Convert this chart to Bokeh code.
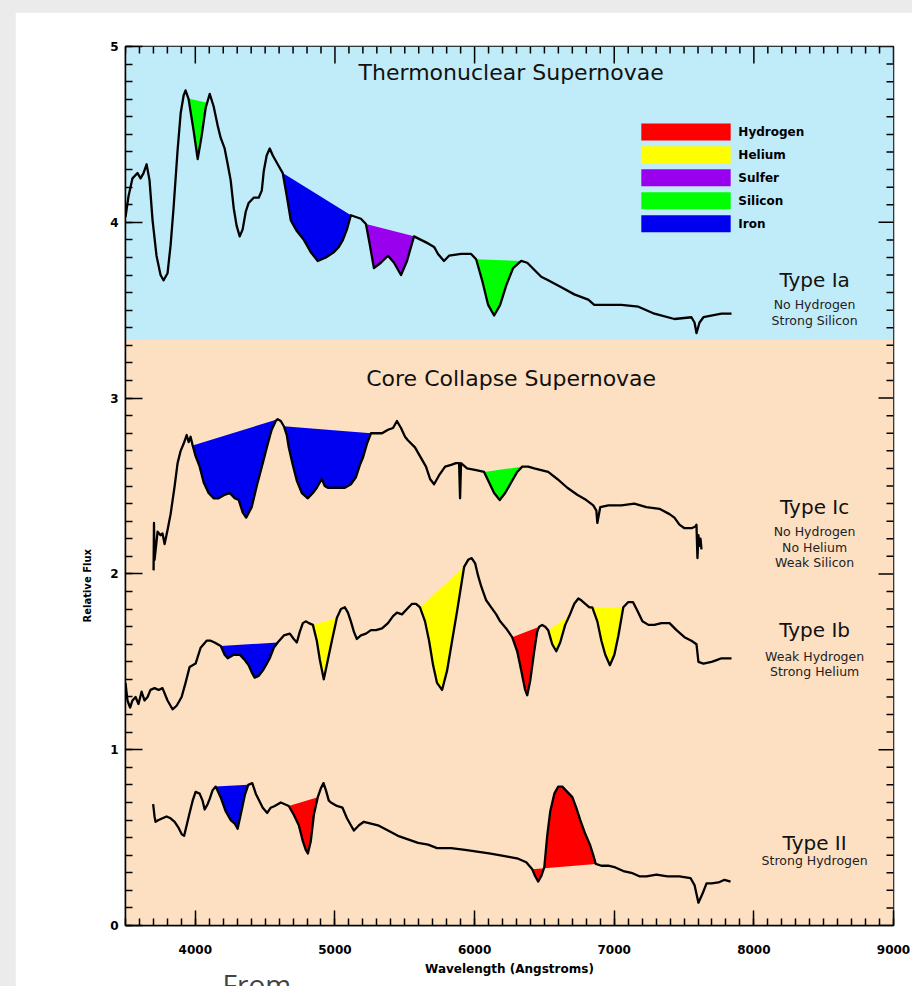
import numpy as np
from bokeh.plotting import figure
from bokeh.models import Range1d, FixedTicker, Title
from bokeh.layouts import column
from bokeh.embed import file_html
from bokeh.resources import INLINE
from bokeh.core.properties import value

# ---------------- data ----------------
ia_wave = [3500, 3522, 3550, 3586, 3608, 3629, 3651, 3672, 3694, 3722, 3751, 3773, 3801, 3823, 3844, 3873,
           3895, 3916, 3930, 3952, 3988, 4017, 4045, 4074, 4103, 4131, 4160, 4182, 4210, 4232, 4253, 4275,
           4296, 4318, 4339, 4361, 4382, 4418, 4454, 4476, 4490, 4511, 4533, 4555, 4590, 4626, 4655, 4684,
           4727, 4777, 4827, 4877, 4935, 4992, 5028, 5057, 5086, 5114, 5150, 5186, 5222, 5250, 5279, 5329,
           5380, 5423, 5473, 5516, 5566, 5616, 5667, 5710, 5738, 5781, 5817, 5903, 5975, 6011, 6054, 6097,
           6140, 6183, 6226, 6276, 6334, 6377, 6427, 6477, 6527, 6621, 6714, 6814, 6857, 6908, 7051, 7173,
           7288, 7431, 7553, 7575, 7589, 7611, 7639, 7768, 7840]
ia_flux = [4.03, 4.15, 4.25, 4.28, 4.25, 4.28, 4.33, 4.24, 4.01, 3.81, 3.70, 3.67, 3.71, 3.87, 4.08, 4.41,
           4.62, 4.72, 4.75, 4.70, 4.52, 4.36, 4.49, 4.65, 4.73, 4.66, 4.55, 4.48, 4.42, 4.33, 4.24, 4.08,
           3.98, 3.92, 3.96, 4.06, 4.11, 4.14, 4.14, 4.18, 4.29, 4.38, 4.42, 4.38, 4.33, 4.28, 4.15, 4.01,
           3.95, 3.90, 3.83, 3.78, 3.80, 3.83, 3.86, 3.90, 3.96, 4.04, 4.03, 4.02, 3.99, 3.87, 3.74, 3.77,
           3.81, 3.77, 3.70, 3.78, 3.92, 3.90, 3.88, 3.86, 3.82, 3.78, 3.81, 3.82, 3.82, 3.79, 3.67, 3.53,
           3.47, 3.53, 3.64, 3.74, 3.78, 3.77, 3.73, 3.69, 3.67, 3.63, 3.59, 3.56, 3.53, 3.53, 3.53, 3.52,
           3.48, 3.45, 3.46, 3.43, 3.37, 3.43, 3.46, 3.48, 3.48]

ic_wave = [3701, 3704, 3708, 3730, 3751, 3765, 3780, 3801, 3823, 3852, 3873, 3895, 3916, 3938, 3952, 3966,
           3981, 4002, 4031, 4060, 4095, 4131, 4167, 4210, 4246, 4282, 4311, 4339, 4364, 4404, 4440, 4483,
           4519, 4547, 4576, 4590, 4612, 4634, 4655, 4669, 4698, 4727, 4763, 4806, 4842, 4870, 4906, 4927,
           4949, 5007, 5071, 5114, 5150, 5179, 5200, 5229, 5258, 5301, 5337, 5380, 5416, 5444, 5473, 5502,
           5522, 5573, 5616, 5652, 5681, 5710, 5745, 5789, 5832, 5867, 5889, 5896, 5903, 5946, 6011, 6068,
           6104, 6140, 6180, 6219, 6262, 6305, 6341, 6384, 6427, 6477, 6527, 6592, 6664, 6735, 6800, 6850,
           6872, 6879, 6900, 6958, 7051, 7144, 7230, 7324, 7396, 7431, 7467, 7503, 7553, 7582, 7589, 7596,
           7603, 7610, 7618, 7625]
ic_flux = [2.02, 2.29, 2.08, 2.24, 2.22, 2.23, 2.17, 2.25, 2.34, 2.50, 2.63, 2.70, 2.74, 2.79, 2.75, 2.78,
           2.73, 2.67, 2.61, 2.52, 2.46, 2.43, 2.43, 2.45, 2.46, 2.43, 2.42, 2.35, 2.32, 2.38, 2.50, 2.63,
           2.74, 2.82, 2.87, 2.88, 2.87, 2.84, 2.79, 2.72, 2.62, 2.53, 2.46, 2.43, 2.46, 2.49, 2.54, 2.50,
           2.49, 2.49, 2.49, 2.51, 2.55, 2.62, 2.66, 2.74, 2.80, 2.80, 2.80, 2.82, 2.83, 2.87, 2.83, 2.78,
           2.76, 2.72, 2.66, 2.61, 2.54, 2.51, 2.56, 2.61, 2.62, 2.63, 2.63, 2.43, 2.63, 2.60, 2.59, 2.58,
           2.52, 2.46, 2.42, 2.46, 2.52, 2.58, 2.61, 2.61, 2.60, 2.59, 2.58, 2.54, 2.49, 2.45, 2.42, 2.39,
           2.36, 2.29, 2.38, 2.39, 2.39, 2.40, 2.38, 2.37, 2.34, 2.32, 2.28, 2.26, 2.26, 2.27, 2.28, 2.09,
           2.22, 2.16, 2.20, 2.14]

ib_wave = [3500, 3514, 3533, 3550, 3572, 3593, 3615, 3636, 3658, 3679, 3708, 3737, 3765, 3801, 3837, 3866,
           3902, 3930, 3959, 4002, 4038, 4081, 4110, 4138, 4182, 4210, 4232, 4275, 4318, 4354, 4382, 4404,
           4425, 4454, 4483, 4512, 4533, 4562, 4590, 4634, 4677, 4705, 4727, 4748, 4770, 4791, 4813, 4842,
           4870, 4892, 4920, 4949, 4978, 5014, 5043, 5071, 5093, 5114, 5136, 5157, 5186, 5222, 5258, 5294,
           5337, 5380, 5416, 5444, 5480, 5516, 5552, 5581, 5609, 5645, 5674, 5703, 5731, 5767, 5803, 5839,
           5875, 5903, 5925, 5954, 5979, 6004, 6025, 6047, 6083, 6119, 6155, 6183, 6226, 6269, 6305, 6334,
           6362, 6377, 6398, 6427, 6448, 6463, 6484, 6506, 6527, 6556, 6585, 6613, 6649, 6678, 6714, 6743,
           6764, 6793, 6822, 6843, 6879, 6908, 6936, 6969, 7001, 7030, 7065, 7101, 7134, 7166, 7202, 7245,
           7288, 7338, 7396, 7446, 7503, 7553, 7589, 7603, 7639, 7697, 7733, 7768, 7840]
ib_flux = [1.38, 1.28, 1.24, 1.28, 1.30, 1.26, 1.33, 1.28, 1.30, 1.34, 1.35, 1.34, 1.35, 1.28, 1.23, 1.25,
           1.30, 1.38, 1.47, 1.49, 1.58, 1.62, 1.62, 1.61, 1.59, 1.54, 1.52, 1.54, 1.54, 1.51, 1.48, 1.44,
           1.41, 1.42, 1.45, 1.49, 1.52, 1.58, 1.61, 1.65, 1.66, 1.63, 1.61, 1.67, 1.72, 1.73, 1.72, 1.71,
           1.62, 1.51, 1.40, 1.51, 1.62, 1.75, 1.80, 1.81, 1.78, 1.73, 1.67, 1.63, 1.65, 1.66, 1.68, 1.68,
           1.69, 1.72, 1.76, 1.78, 1.77, 1.80, 1.83, 1.83, 1.81, 1.73, 1.62, 1.48, 1.38, 1.34, 1.45, 1.62,
           1.79, 1.93, 2.04, 2.08, 2.09, 2.06, 1.99, 1.93, 1.85, 1.81, 1.77, 1.73, 1.69, 1.64, 1.56, 1.45,
           1.34, 1.31, 1.39, 1.56, 1.67, 1.70, 1.71, 1.70, 1.68, 1.60, 1.56, 1.61, 1.71, 1.76, 1.83, 1.86,
           1.85, 1.83, 1.81, 1.81, 1.73, 1.62, 1.54, 1.48, 1.54, 1.65, 1.81, 1.84, 1.84, 1.79, 1.73, 1.71,
           1.71, 1.72, 1.72, 1.68, 1.64, 1.62, 1.60, 1.50, 1.49, 1.50, 1.51, 1.52, 1.52]

ii_wave = [3698, 3708, 3715, 3737, 3765, 3794, 3823, 3852, 3877, 3902, 3920, 3938, 3959, 3981, 4002, 4031,
           4052, 4067, 4088, 4103, 4124, 4146, 4181, 4217, 4253, 4282, 4303, 4325, 4354, 4379, 4408, 4433,
           4458, 4483, 4515, 4540, 4569, 4612, 4641, 4669, 4705, 4741, 4770, 4791, 4806, 4827, 4849, 4877,
           4899, 4918, 4935, 4956, 4971, 5014, 5054, 5086, 5114, 5136, 5172, 5207, 5258, 5308, 5380, 5451,
           5523, 5595, 5667, 5731, 5832, 5932, 6018, 6104, 6176, 6245, 6312, 6370, 6413, 6434, 6456, 6477,
           6499, 6520, 6542, 6571, 6599, 6628, 6664, 6700, 6728, 6757, 6793, 6826, 6850, 6868, 6908, 6958,
           7008, 7065, 7123, 7180, 7231, 7302, 7381, 7467, 7546, 7575, 7603, 7632, 7661, 7697, 7747, 7790,
           7833]
ii_flux = [0.69, 0.62, 0.59, 0.60, 0.61, 0.62, 0.61, 0.59, 0.56, 0.52, 0.51, 0.57, 0.64, 0.71, 0.76, 0.75,
           0.71, 0.66, 0.69, 0.72, 0.77, 0.79, 0.73, 0.65, 0.60, 0.58, 0.55, 0.63, 0.74, 0.80, 0.81, 0.75,
           0.71, 0.67, 0.64, 0.67, 0.68, 0.70, 0.69, 0.68, 0.63, 0.57, 0.48, 0.43, 0.41, 0.48, 0.63, 0.73,
           0.78, 0.81, 0.77, 0.71, 0.70, 0.68, 0.67, 0.61, 0.57, 0.54, 0.57, 0.59, 0.58, 0.57, 0.54, 0.51,
           0.49, 0.47, 0.46, 0.44, 0.44, 0.43, 0.42, 0.41, 0.40, 0.39, 0.38, 0.36, 0.32, 0.28, 0.25, 0.28,
           0.33, 0.51, 0.65, 0.75, 0.79, 0.79, 0.76, 0.73, 0.67, 0.60, 0.52, 0.46, 0.40, 0.35, 0.34, 0.34,
           0.33, 0.31, 0.30, 0.28, 0.28, 0.29, 0.28, 0.28, 0.27, 0.23, 0.13, 0.18, 0.24, 0.24, 0.245, 0.26,
           0.25]

# absorption / emission features: element, start wavelength, end wavelength
ia_feat_elem = ["Silicon", "Iron", "Sulfer", "Silicon"]
ia_feat_start = [3950, 4626, 5222, 6011]
ia_feat_end = [4085, 5114, 5566, 6334]

ic_feat_elem = ["Iron", "Iron", "Silicon"]
ic_feat_start = [3981, 4634, 6068]
ic_feat_end = [4590, 5258, 6341]

ib_feat_elem = ["Iron", "Helium", "Helium", "Hydrogen", "Helium", "Helium"]
ib_feat_start = [4182, 4842, 5609, 6269, 6527, 6843]
ib_feat_end = [4590, 5014, 5925, 6463, 6678, 7065]

ii_feat_elem = ["Iron", "Hydrogen", "Hydrogen"]
ii_feat_start = [4146, 4669, 6413]
ii_feat_end = [4379, 4877, 6868]

element_names = ["Hydrogen", "Helium", "Sulfer", "Silicon", "Iron"]
element_colors = ["#ff0000", "#ffff00", "#9900ee", "#00ff00", "#0000f0"]

band_bottom = [0.0, 3.33]
band_top = [3.33, 5.0]
band_colors = ["#fde0c2", "#c0ebf9"]

x_major = [4000, 5000, 6000, 7000, 8000, 9000]
y_major = [0, 1, 2, 3, 4, 5]

type_titles = ["Type Ia", "Type Ic", "Type Ib", "Type II"]
type_notes = [["No Hydrogen", "Strong Silicon"],
              ["No Hydrogen", "No Helium", "Weak Silicon"],
              ["Weak Hydrogen", "Strong Helium"],
              ["Strong Hydrogen"]]

# ---------------- figure ----------------
FONT = value("DejaVu Sans")
X0, X1, Y0, Y1 = 3500, 9000, 0, 5
FW, FH = 768, 879

p = figure(frame_width=FW, frame_height=FH,
           x_range=Range1d(X0, X1), y_range=Range1d(Y0, Y1),
           output_backend="svg", toolbar_location=None,
           min_border_left=110, min_border_right=19, min_border_top=34, min_border_bottom=61,
           background_fill_color="white", border_fill_color="white")
p.margin = (12, 0, 0, 15)
p.grid.visible = False
p.outline_line_color = "black"
p.outline_line_width = 1.5

# background bands
p.quad(left=X0, right=X1, bottom=band_bottom, top=band_top, fill_color=band_colors, line_color=None)

color_of = dict(zip(element_names, element_colors))


def draw_spectrum(wave, flux, elems, starts, ends):
    w = np.asarray(wave, float)
    f = np.asarray(flux, float)
    for el, a, b in zip(elems, starts, ends):
        inside = (w > a) & (w < b)
        xs = np.concatenate([[a], w[inside], [b]])
        ys = np.concatenate([[np.interp(a, w, f)], f[inside], [np.interp(b, w, f)]])
        p.patch(xs, ys, fill_color=color_of[el], line_color=None)
    p.line(w, f, line_color="black", line_width=2.3, line_join="round")


draw_spectrum(ia_wave, ia_flux, ia_feat_elem, ia_feat_start, ia_feat_end)
draw_spectrum(ic_wave, ic_flux, ic_feat_elem, ic_feat_start, ic_feat_end)
draw_spectrum(ib_wave, ib_flux, ib_feat_elem, ib_feat_start, ib_feat_end)
draw_spectrum(ii_wave, ii_flux, ii_feat_elem, ii_feat_start, ii_feat_end)

# legend (colour bars + labels)
leg_x0, leg_w = 7194, 640
leg_y0, leg_dy, leg_h = 4.514, 0.1305, 0.097
leg_y = [leg_y0 - i * leg_dy for i in range(len(element_names))]
p.rect(x=leg_x0 + leg_w / 2, y=leg_y, width=leg_w, height=leg_h, fill_color=element_colors, line_color=None)
p.text(x=leg_x0 + leg_w + 55, y=leg_y, text=element_names, text_font=FONT, text_font_size="12px",
       text_font_style="bold", text_baseline="middle", text_align="left", text_color="black")

# section titles
p.text(x=[6262, 6262], y=[4.85, 3.11], text=["Thermonuclear Supernovae", "Core Collapse Supernovae"],
       text_font=FONT, text_font_size="22px", text_align="center", text_baseline="middle",
       text_color="#111111")

# type labels
tx = 8435
title_y = [3.67, 2.38, 1.68, 0.47]
note_first_y = [3.53, 2.24, 1.53, 0.37]
note_dy = 0.088
p.text(x=[tx] * 4, y=title_y, text=type_titles, text_font=FONT, text_font_size="20px",
       text_align="center", text_baseline="middle", text_color="#111111")
nx, ny, nt = [], [], []
for y0, notes in zip(note_first_y, type_notes):
    for k, n in enumerate(notes):
        nx.append(tx)
        ny.append(y0 - k * note_dy)
        nt.append(n)
p.text(x=nx, y=ny, text=nt, text_font=FONT, text_font_size="12.5px", text_align="center",
       text_baseline="middle", text_color="#222222")

# axes (bottom and left carry labels)
x_minor = list(range(X0, X1 + 1, 100))
y_minor = [round(v, 2) for v in np.arange(Y0, Y1 + 0.001, 0.1)]
xt = FixedTicker(ticks=x_major, minor_ticks=x_minor)
yt = FixedTicker(ticks=y_major, minor_ticks=y_minor)


def style_axis(ax, major_in):
    ax.major_tick_in = major_in
    ax.major_tick_out = 0
    ax.minor_tick_in = 7
    ax.minor_tick_out = 0
    ax.axis_line_color = "black"
    ax.axis_line_width = 1.5
    ax.major_tick_line_color = "black"
    ax.major_tick_line_width = 1.5
    ax.minor_tick_line_color = "black"
    ax.minor_tick_line_width = 1.5
    ax.major_label_text_font = "DejaVu Sans"
    ax.major_label_text_font_style = "bold"
    ax.major_label_text_font_size = "12px"
    ax.major_label_text_color = "black"


p.xaxis.ticker = xt
p.yaxis.ticker = yt
style_axis(p.xaxis[0], 15)
style_axis(p.yaxis[0], 17)
p.xaxis.major_label_standoff = 19
p.yaxis.major_label_standoff = 7
p.xaxis.axis_label = "Wavelength (Angstroms)"
p.xaxis.axis_label_text_font = "DejaVu Sans"
p.xaxis.axis_label_text_font_style = "bold"
p.xaxis.axis_label_text_color = "black"
p.xaxis.axis_label_text_font_size = "12px"
p.xaxis.axis_label_standoff = 5

# y axis title sits lower than the frame centre in the original -> a left-side Title with an offset
p.add_layout(Title(text="Relative Flux", align="left", offset=303, standoff=30,
                   text_font="DejaVu Sans", text_font_style="bold", text_font_size="10px",
                   text_color="black"), "left")

# inward ticks on the top and right edges (no labels)
dx_per_px = (X1 - X0) / FW
dy_per_px = (Y1 - Y0) / FH
x_minor_only = [v for v in x_minor if v not in x_major]
y_minor_only = [v for v in y_minor if v not in y_major]
p.segment(x0=x_major, y0=Y1, x1=x_major, y1=Y1 - 17 * dy_per_px, line_color="black", line_width=1.5)
p.segment(x0=x_minor_only, y0=Y1, x1=x_minor_only, y1=Y1 - 7 * dy_per_px, line_color="black", line_width=1.5)
p.segment(x0=X1, y0=y_major, x1=X1 - 15 * dx_per_px, y1=y_major, line_color="black", line_width=1.5)
p.segment(x0=X1, y0=y_minor_only, x1=X1 - 7 * dx_per_px, y1=y_minor_only, line_color="black", line_width=1.5)

# caption fragment under the image: only its top shows, cut by the canvas edge as in the original
p.add_layout(Title(text="From", align="left", offset=97, standoff=-32, text_font="Open Sans",
                   text_font_size="28px", text_font_style="normal", text_color="#444444"), "below")

layout = column(p, styles={"background-color": "#ebebeb"})

with open("out.html", "w") as fh:
    fh.write(file_html(layout, INLINE))
